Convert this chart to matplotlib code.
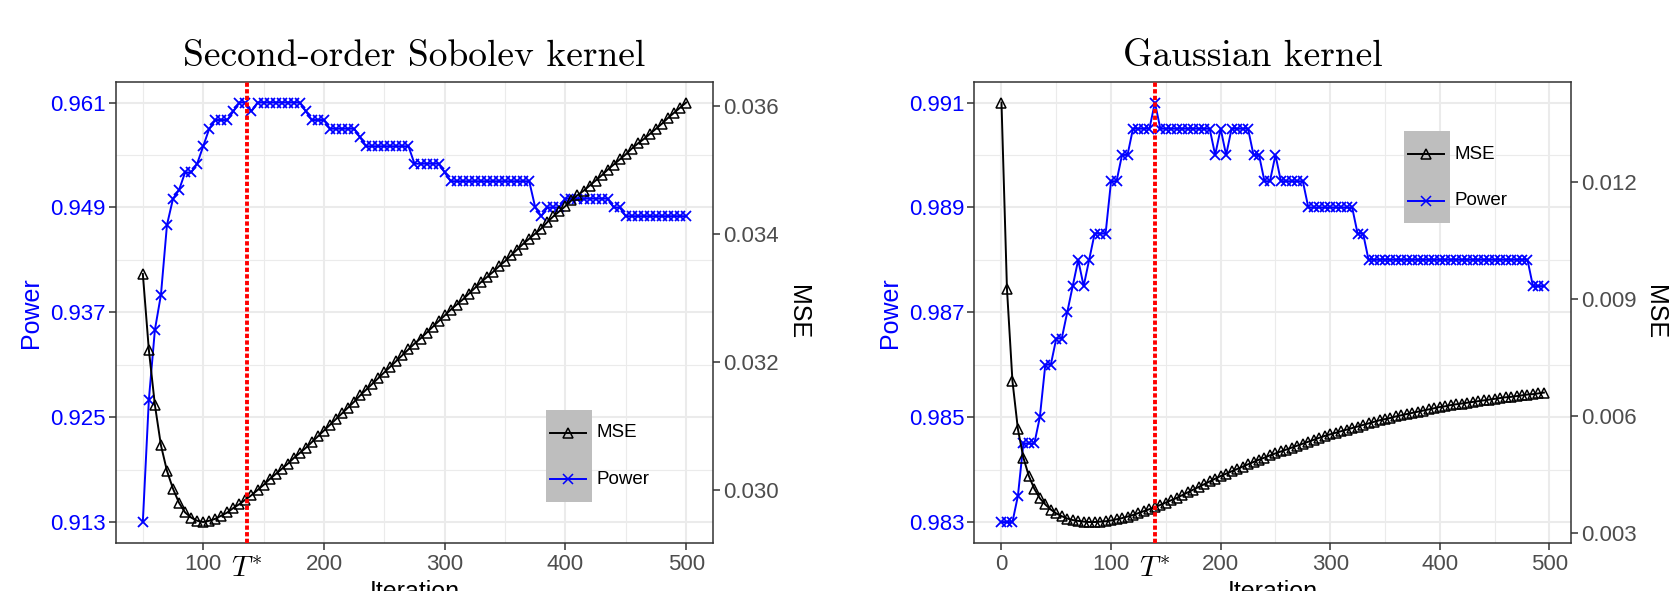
import matplotlib
matplotlib.use("Agg")
import matplotlib.pyplot as plt
from matplotlib.patches import Rectangle

plt.rcParams["font.family"] = ["Liberation Sans", "DejaVu Sans"]
plt.rcParams["mathtext.fontset"] = "cm"

# ---- data ----
sob_iter = list(range(50, 505, 5))
sob_power = [
    0.913, 0.927, 0.935, 0.939, 0.947, 0.950, 0.951, 0.953, 0.953, 0.954,  # 50-95
    0.956, 0.958, 0.959, 0.959, 0.959, 0.960, 0.961, 0.961, 0.960, 0.961,  # 100-145
    0.961, 0.961, 0.961, 0.961, 0.961, 0.961, 0.961, 0.960, 0.959, 0.959,  # 150-195
    0.959, 0.958, 0.958, 0.958, 0.958, 0.958, 0.957, 0.956, 0.956, 0.956,  # 200-245
    0.956, 0.956, 0.956, 0.956, 0.956, 0.954, 0.954, 0.954, 0.954, 0.954,  # 250-295
    0.953, 0.952, 0.952, 0.952, 0.952, 0.952, 0.952, 0.952, 0.952, 0.952,  # 300-345
    0.952, 0.952, 0.952, 0.952, 0.952, 0.949, 0.948, 0.949, 0.949, 0.949,  # 350-395
    0.950, 0.950, 0.950, 0.950, 0.950, 0.950, 0.950, 0.950, 0.949, 0.949,  # 400-445
    0.948, 0.948, 0.948, 0.948, 0.948, 0.948, 0.948, 0.948, 0.948, 0.948,  # 450-495
    0.948,                                                                 # 500
]
sob_mse = [
    0.03338, 0.03219, 0.03133, 0.03070, 0.03030, 0.03002, 0.02980, 0.02965, 0.02957, 0.02952,
    0.02950, 0.02952, 0.02955, 0.02960, 0.02965, 0.02972, 0.02978, 0.02985, 0.02992, 0.03000,
    0.03008, 0.03017, 0.03025, 0.03033, 0.03041, 0.03050, 0.03058, 0.03066, 0.03075, 0.03084,
    0.03093, 0.03102, 0.03111, 0.03120, 0.03129, 0.03138, 0.03148, 0.03157, 0.03166, 0.03175,
    0.03184, 0.03193, 0.03202, 0.03211, 0.03220, 0.03229, 0.03237, 0.03246, 0.03255, 0.03264,
    0.03273, 0.03282, 0.03290, 0.03298, 0.03307, 0.03316, 0.03325, 0.03333, 0.03341, 0.03350,
    0.03358, 0.03367, 0.03376, 0.03385, 0.03393, 0.03401, 0.03409, 0.03419, 0.03428, 0.03436,
    0.03444, 0.03453, 0.03461, 0.03468, 0.03476, 0.03484, 0.03492, 0.03501, 0.03509, 0.03517,
    0.03525, 0.03534, 0.03542, 0.03549, 0.03557, 0.03565, 0.03573, 0.03582, 0.03590, 0.03598,
    0.03606,
]
sob_tstar = 136

gau_iter = list(range(0, 500, 5))
gau_power = [
    0.983, 0.983, 0.983, 0.9835, 0.9845, 0.9845, 0.9845, 0.985, 0.986, 0.986,          # 0-45
    0.9865, 0.9865, 0.987, 0.9875, 0.988, 0.9875, 0.988, 0.9885, 0.9885, 0.9885,       # 50-95
    0.9895, 0.9895, 0.990, 0.990, 0.9905, 0.9905, 0.9905, 0.9905, 0.991, 0.9905,       # 100-145
    0.9905, 0.9905, 0.9905, 0.9905, 0.9905, 0.9905, 0.9905, 0.9905, 0.9905, 0.990,     # 150-195
    0.9905, 0.990, 0.9905, 0.9905, 0.9905, 0.9905, 0.990, 0.990, 0.9895, 0.9895,       # 200-245
    0.990, 0.9895, 0.9895, 0.9895, 0.9895, 0.9895, 0.989, 0.989, 0.989, 0.989,         # 250-295
    0.989, 0.989, 0.989, 0.989, 0.989, 0.9885, 0.9885, 0.988, 0.988, 0.988,            # 300-345
    0.988, 0.988, 0.988, 0.988, 0.988, 0.988, 0.988, 0.988, 0.988, 0.988,              # 350-395
    0.988, 0.988, 0.988, 0.988, 0.988, 0.988, 0.988, 0.988, 0.988, 0.988,              # 400-445
    0.988, 0.988, 0.988, 0.988, 0.988, 0.988, 0.988, 0.9875, 0.9875, 0.9875,           # 450-495
]
gau_mse = [
    0.01405, 0.00927, 0.00691, 0.00567, 0.00494, 0.00447, 0.00414, 0.00390, 0.00374, 0.00361,
    0.00351, 0.00344, 0.00338, 0.00334, 0.00332, 0.00330, 0.00329, 0.00329, 0.00330, 0.00331,
    0.00333, 0.00336, 0.00339, 0.00343, 0.00347, 0.00352, 0.00357, 0.00362, 0.00367, 0.00373,
    0.00379, 0.00385, 0.00391, 0.00398, 0.00405, 0.00412, 0.00419, 0.00426, 0.00433, 0.00440,
    0.00447, 0.00453, 0.00459, 0.00465, 0.00471, 0.00477, 0.00483, 0.00489, 0.00494, 0.00500,
    0.00505, 0.00510, 0.00515, 0.00520, 0.00525, 0.00530, 0.00535, 0.00540, 0.00545, 0.00550,
    0.00554, 0.00558, 0.00562, 0.00566, 0.00570, 0.00574, 0.00578, 0.00582, 0.00586, 0.00590,
    0.00593, 0.00596, 0.00600, 0.00603, 0.00606, 0.00609, 0.00612, 0.00615, 0.00618, 0.00621,
    0.00624, 0.00626, 0.00629, 0.00631, 0.00633, 0.00635, 0.00637, 0.00639, 0.00641, 0.00643,
    0.00645, 0.00647, 0.00649, 0.00650, 0.00652, 0.00654, 0.00656, 0.00657, 0.00659, 0.00661,
]
gau_tstar = 140

sob_xticks = [100, 200, 300, 400, 500]
gau_xticks = [0, 100, 200, 300, 400, 500]
sob_pticks = [0.913, 0.925, 0.937, 0.949, 0.961]
gau_pticks = [0.983, 0.985, 0.987, 0.989, 0.991]
sob_mticks = [0.030, 0.032, 0.034, 0.036]
gau_mticks = [0.003, 0.006, 0.009, 0.012]

GRID = "#EBEBEB"
DARK = "#333333"
TICKTXT = "#4D4D4D"


def expand(vals, frac=0.05):
    lo, hi = min(vals), max(vals)
    r = hi - lo
    return lo - frac * r, hi + frac * r


def midpoints(ticks):
    return [(a + b) / 2 for a, b in zip(ticks[:-1], ticks[1:])]


def panel(ax, it, power, mse, tstar, xticks, pticks, mticks, title, title_x, leg_y):
    ax.set_xticks(xticks)
    ax.set_xticks(midpoints(xticks) + [xticks[0] - 50], minor=True)
    ax.set_yticks(pticks)
    ax.set_yticks(midpoints(pticks), minor=True)
    ax.set_yticklabels([f"{v:.3f}" for v in pticks])
    ax.set_xlim(*expand(it))
    ax.set_ylim(*expand(power))
    ax.grid(True, which="major", color=GRID, lw=1.5)
    ax.grid(True, which="minor", color=GRID, lw=0.8)
    ax.set_axisbelow(True)
    ax.tick_params(which="major", length=5, width=1.1, color=DARK, labelsize=16, pad=2)
    ax.tick_params(axis="x", labelcolor=TICKTXT, pad=3)
    ax.tick_params(axis="y", labelcolor="blue")
    ax.tick_params(which="minor", length=0)
    for s in ax.spines.values():
        s.set_color(DARK)
        s.set_linewidth(1.1)
    ax.plot(it, power, color="blue", lw=1.4, marker="x", ms=7.5, mew=1.3)

    tw = ax.twinx()
    tw.set_yticks(mticks)
    tw.set_yticklabels([f"{v:.3f}" for v in mticks])
    tw.set_ylim(*expand(mse))
    tw.tick_params(length=5, width=1.1, color=DARK, labelsize=16, pad=2, labelcolor=TICKTXT)
    for s in tw.spines.values():
        s.set_visible(False)
    tw.plot(it, mse, color="black", lw=1.4, marker="^", ms=7.5, mfc="none", mew=1.1)
    tw.axvline(tstar, color="red", lw=2.8, ls=(0, (1.1, 0.6)), zorder=5)

    ax.text(tstar, -0.074, r"$T^{*}$", transform=ax.get_xaxis_transform(),
            ha="center", va="baseline", fontsize=21)
    ax.text(title_x, 1.034, title, transform=ax.transAxes, ha="center", va="baseline",
            fontsize=27, family=["cmr10", "DejaVu Serif"])
    ax.text(0.5, -0.080, "Iteration", transform=ax.transAxes, ha="center", va="top",
            fontsize=18)
    ax.text(-0.142, 0.5, "Power", transform=ax.transAxes, ha="center", va="center",
            rotation=90, fontsize=18, color="blue")
    ax.text(1.141, 0.5, "MSE", transform=ax.transAxes, ha="center", va="center",
            rotation=-90, fontsize=18)

    # legend: grey key column, labels on the panel
    tw.add_patch(Rectangle((0.720, leg_y), 0.077, 0.200, transform=tw.transAxes,
                           fc="#BEBEBE", ec="none", zorder=6, clip_on=False))
    keys = [("MSE", "black", "^", leg_y + 0.150), ("Power", "blue", "x", leg_y + 0.049)]
    for lab, col, mk, yk in keys:
        tw.plot([0.7274, 0.7876], [yk, yk], color=col, lw=1.4, transform=tw.transAxes,
                zorder=7, clip_on=False)
        tw.plot([0.7575], [yk], color=col, marker=mk, ms=7.5, mew=1.1,
                mfc="none", transform=tw.transAxes, zorder=7, clip_on=False)
        tw.text(0.804, yk, lab, transform=tw.transAxes, ha="left", va="center",
                fontsize=13.5, zorder=7)


fig = plt.figure(figsize=(16.69, 5.91), dpi=100)
ax1 = fig.add_axes([0.0693, 0.0812, 0.3581, 0.7808])
ax2 = fig.add_axes([0.5838, 0.0812, 0.3575, 0.7808])

panel(ax1, sob_iter, sob_power, sob_mse, sob_tstar, sob_xticks, sob_pticks, sob_mticks,
      "Second-order Sobolev kernel", 0.5, 0.089)
panel(ax2, gau_iter, gau_power, gau_mse, gau_tstar, gau_xticks, gau_pticks, gau_mticks,
      "Gaussian kernel", 0.467, 0.693)

fig.savefig("out.png", dpi=100)
